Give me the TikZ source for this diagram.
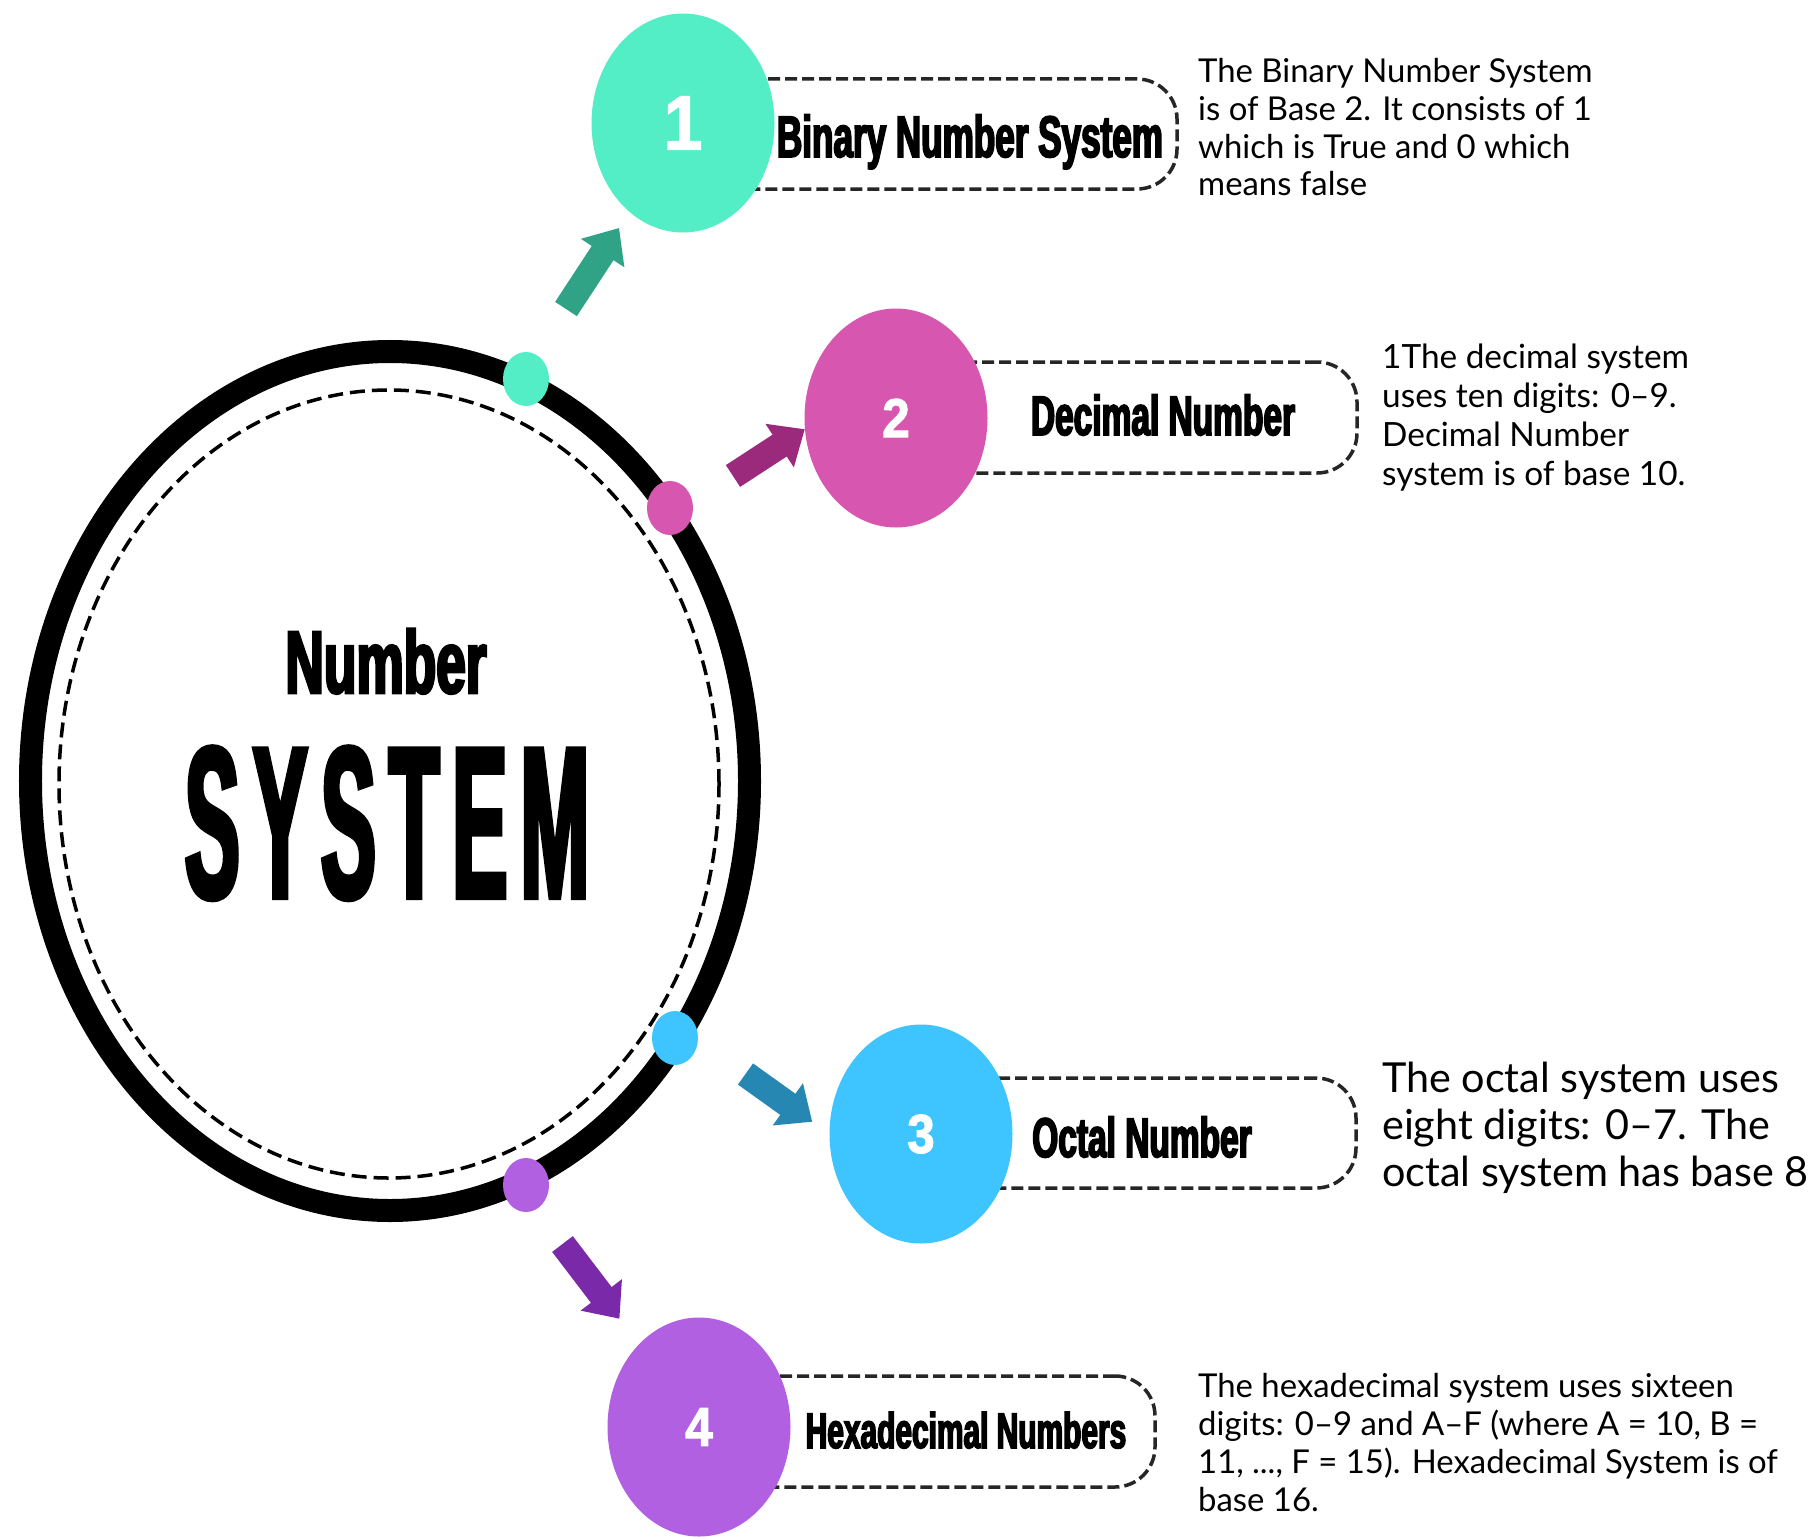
\documentclass[tikz,border=0pt]{standalone}
\usepackage{fontspec}
\setmainfont{Lato}
\newfontfamily\labelfont[FakeStretch=0.6,FakeBold=3]{Liberation Sans}
\newfontfamily\titlefont[FakeStretch=0.38,FakeBold=2,LetterSpace=6]{Liberation Sans}
\newfontfamily\digitfont[FakeStretch=0.9,FakeBold=2]{Liberation Sans}
\usetikzlibrary{arrows.meta,shapes.geometric,calc}

\definecolor{tealA}{HTML}{53EDC6}
\definecolor{tealB}{HTML}{30A386}
\definecolor{pinkA}{HTML}{D656B0}
\definecolor{pinkB}{HTML}{9B2A7D}
\definecolor{blueA}{HTML}{3EC4FF}
\definecolor{blueB}{HTML}{2587B2}
\definecolor{purpA}{HTML}{B060E0}
\definecolor{purpB}{HTML}{7A2AA8}

\begin{document}
\begin{tikzpicture}[x=1bp,y=-1bp,
  bigdot/.style={ellipse, minimum width=183bp, minimum height=219bp, inner sep=0pt,
    text=white, font=\digitfont\bfseries\fontsize{55}{56}\selectfont},
  smalldot/.style={ellipse, minimum width=46bp, minimum height=54bp, inner sep=0pt},
  dashbox/.style={draw=black!85, line width=3.5bp, dash pattern=on 12bp off 5bp,
    rounded corners=40bp, inner sep=0pt},
  caption/.style={anchor=base, inner sep=0pt, font=\labelfont\bfseries\fontsize{56}{58}\selectfont},
  desc/.style={anchor=north west, inner sep=0pt, align=left,
    font=\fontsize{33}{38}\selectfont},
  blockarrow/.style={line width=26bp, line cap=butt, -{Triangle[width=50bp,length=30bp]}}
]
\useasboundingbox (0,0) rectangle (1817,1537);
\fill[white] (0,0) rectangle (1817,1537);

% central ring with its dashed inner outline
\draw[line width=23bp] (390,781) ellipse [x radius=359.5bp, y radius=429.5bp];
\draw[line width=3.5bp, dash pattern=on 15bp off 7bp] (389,784) ellipse [x radius=330bp, y radius=394bp];

\node[anchor=base, inner sep=0pt, font=\labelfont\bfseries\fontsize{89}{90}\selectfont] (title1) at (386,693) {Number};
\node[anchor=base, inner sep=0pt, font=\titlefont\bfseries\fontsize{218}{220}\selectfont] (title2) at (387,898) {SYSTEM};

% dashed label boxes (left ends tucked behind the numbered discs)
\node[dashbox, minimum width=494bp, minimum height=110bp] (box1) at (930,134) {};
\node[dashbox, minimum width=461bp, minimum height=111bp] (box2) at (1126.5,417.5) {};
\node[dashbox, minimum width=435bp, minimum height=110bp] (box3) at (1138.5,1133) {};
\node[dashbox, minimum width=456bp, minimum height=111bp] (box4) at (927,1431.5) {};

% numbered discs
\node[bigdot, fill=tealA, font=\digitfont\bfseries\fontsize{77}{78}\selectfont] (e1) at (683,123) {1};
\node[bigdot, fill=pinkA] (e2) at (896,418) {2};
\node[bigdot, fill=blueA] (e3) at (921,1134) {3};
\node[bigdot, fill=purpA] (e4) at (699,1427) {4};

% box captions
\node[caption, font=\labelfont\bfseries\fontsize{58.7}{60}\selectfont] (c1) at (970,157) {Binary Number System};
\node[caption] (c2) at (1163,435) {Decimal Number};
\node[caption] (c3) at (1142,1157) {Octal Number};
\node[caption, font=\labelfont\bfseries\fontsize{50}{52}\selectfont] (c4) at (966,1448) {Hexadecimal Numbers};

% markers on the ring
\node[smalldot, fill=tealA] (d1) at (526,379) {};
\node[smalldot, fill=pinkA] (d2) at (670,508) {};
\node[smalldot, fill=blueA] (d3) at (675,1038) {};
\node[smalldot, fill=purpA] (d4) at (526,1185) {};

% block arrows from the ring towards the discs
\coordinate (t1) at (566,309);
\coordinate (t2) at (733,476);
\coordinate (t3) at (745.5,1074);
\coordinate (t4) at (562.5,1244);
\draw[blockarrow, color=tealB, shorten >=19bp] (t1) -- (e1.239);
\draw[blockarrow, color=pinkB] (t2) -- (e2.187);
\draw[blockarrow, color=blueB, shorten >=21bp] (t3) -- (e3.west);
\draw[blockarrow, color=purpB, shorten >=32bp] (t4) -- (e4.126.3);

% descriptions
\node[desc] (x1) at (1198,58) {The Binary Number System\\is of Base 2. It consists of 1\\which is True and 0 which\\means false};
\node[desc, font=\fontsize{33.5}{39}\selectfont] (x2) at (1382,344) {1The decimal system\\uses ten digits: 0–9.\\Decimal Number\\system is of base 10.};
\node[desc, font=\fontsize{41.5}{47}\selectfont] (x3) at (1382,1062) {The octal system uses\\eight digits: 0–7. The\\octal system has base 8};
\node[desc] (x4) at (1198,1373) {The hexadecimal system uses sixteen\\digits: 0–9 and A–F (where A = 10, B =\\11, ..., F = 15). Hexadecimal System is of\\base 16.};
\end{tikzpicture}
\end{document}
